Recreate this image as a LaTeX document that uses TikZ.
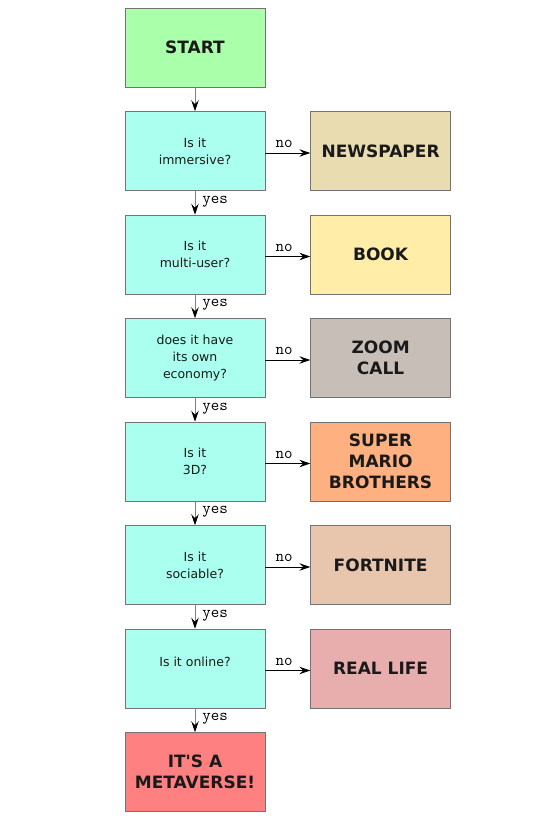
\documentclass[tikz,border=0pt]{standalone}
\usepackage{fontspec}
\newfontfamily\boxfont{DejaVu Sans}
\usetikzlibrary{positioning,arrows.meta}
\definecolor{startgreen}{HTML}{AAFFAA}
\definecolor{askcyan}{HTML}{AAFFEE}
\definecolor{newstan}{HTML}{E8DCB0}
\definecolor{bookyellow}{HTML}{FFEDA8}
\definecolor{zoomgray}{HTML}{C7BEB8}
\definecolor{marioorange}{HTML}{FFB080}
\definecolor{fortnitetan}{HTML}{E8C6AE}
\definecolor{lifepink}{HTML}{E8AEAE}
\definecolor{metared}{HTML}{FF8080}
\definecolor{inkblack}{HTML}{1A1A1A}
\begin{document}
\begin{tikzpicture}[x=1pt,y=1pt,
    box/.style={draw=gray!90!black,line width=0.6pt,minimum width=140pt,minimum height=79pt,
      inner sep=0pt,align=center,text=inkblack},
    ask/.style={box,fill=askcyan,font=\boxfont\fontsize{12.5}{17}\selectfont},
    answer/.style={box,font=\boxfont\fontsize{17}{21}\selectfont\bfseries},
    yesarrow/.style={draw=gray,line width=0.8pt,-{Stealth[black,length=11pt,width=7.5pt,inset=4pt]}},
    noarrow/.style={draw=black,line width=0.8pt,-{Stealth[length=11pt,width=7.5pt,inset=4pt]}},
    lbl/.style={font=\ttfamily\fontsize{16.5}{16.5}\selectfont,inner sep=2pt}]
  \useasboundingbox (0,0) rectangle (550,-819);
  % left column
  \node[answer,fill=startgreen] (start) at (195,-47.5) {START};
  \node[ask,below=23.9pt of start] (q1) {Is it\\immersive?};
  \node[ask,below=23.9pt of q1] (q2) {Is it\\multi-user?};
  \node[ask,below=23.9pt of q2] (q3) {does it have\\its own\\economy?};
  \node[ask,below=23.9pt of q3] (q4) {Is it\\3D?};
  \node[ask,below=23.9pt of q4] (q5) {Is it\\sociable?};
  \node[ask,below=23.9pt of q5] (q6) {\raisebox{14pt}{Is it online?}};
  \node[answer,fill=metared,below=23.9pt of q6] (meta) {IT'S A\\METAVERSE!};
  % right column
  \node[answer,fill=newstan,right=45pt of q1] (r1) {NEWSPAPER};
  \node[answer,fill=bookyellow,right=45pt of q2] (r2) {BOOK};
  \node[answer,fill=zoomgray,right=45pt of q3] (r3) {ZOOM\\CALL};
  \node[answer,fill=marioorange,right=45pt of q4] (r4) {SUPER\\MARIO\\BROTHERS};
  \node[answer,fill=fortnitetan,right=45pt of q5] (r5) {FORTNITE};
  \node[answer,fill=lifepink,right=45pt of q6] (r6) {REAL LIFE};
  % yes arrows
  \draw[yesarrow] (start) -- (q1);
  \draw[yesarrow] (q1) -- node[lbl,right=5pt,pos=0.45] (y1) {yes} (q2);
  \draw[yesarrow] (q2) -- node[lbl,right=5pt,pos=0.45] (y2) {yes} (q3);
  \draw[yesarrow] (q3) -- node[lbl,right=5pt,pos=0.45] (y3) {yes} (q4);
  \draw[yesarrow] (q4) -- node[lbl,right=5pt,pos=0.45] (y4) {yes} (q5);
  \draw[yesarrow] (q5) -- node[lbl,right=5pt,pos=0.45] (y5) {yes} (q6);
  \draw[yesarrow] (q6) -- node[lbl,right=5pt,pos=0.45] (y6) {yes} (meta);
  % no arrows
  \draw[noarrow] ([yshift=-2pt]q1.east) -- node[lbl,above=3pt,pos=0.42] (n1) {no} ([yshift=-2pt]r1.west);
  \draw[noarrow] ([yshift=-2pt]q2.east) -- node[lbl,above=3pt,pos=0.42] (n2) {no} ([yshift=-2pt]r2.west);
  \draw[noarrow] ([yshift=-2pt]q3.east) -- node[lbl,above=3pt,pos=0.42] (n3) {no} ([yshift=-2pt]r3.west);
  \draw[noarrow] ([yshift=-2pt]q4.east) -- node[lbl,above=3pt,pos=0.42] (n4) {no} ([yshift=-2pt]r4.west);
  \draw[noarrow] ([yshift=-2pt]q5.east) -- node[lbl,above=3pt,pos=0.42] (n5) {no} ([yshift=-2pt]r5.west);
  \draw[noarrow] ([yshift=-2pt]q6.east) -- node[lbl,above=3pt,pos=0.42] (n6) {no} ([yshift=-2pt]r6.west);
\end{tikzpicture}
\end{document}
